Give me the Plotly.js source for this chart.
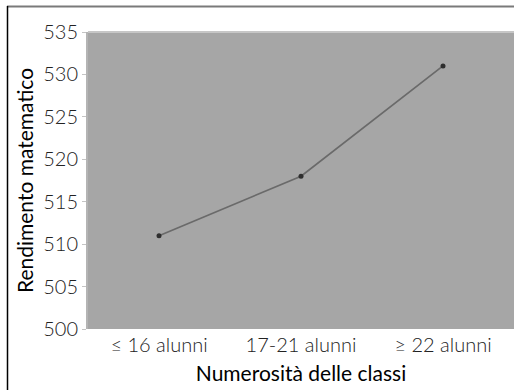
<!DOCTYPE html>
<html>
<head>
<meta charset="utf-8">
<script src="https://cdn.plot.ly/plotly-3.0.1.min.js"></script>
<style>
  html, body { margin: 0; padding: 0; background: #fff; }
  #chart { width: 514px; height: 390px; }
</style>
</head>
<body>
<div id="chart"></div>
<script>
// Class size groups and mean maths score for each group
const categories = ['≤ 16 alunni', '17-21 alunni', '≥ 22 alunni'];
const scores = [511, 518, 531];
const yTicks = [500, 505, 510, 515, 520, 525, 530, 535];

// Plot-area geometry in pixels, used to place the outer frame lines
const W = 514, H = 390;
const M = { l: 88, r: 0, t: 32, b: 61 };
const pw = W - M.l - M.r, ph = H - M.t - M.b;
const px = v => (v - M.l) / pw;
const py = v => (H - M.b - v) / ph;

const trace = {
  x: categories,
  y: scores,
  type: 'scatter',
  mode: 'lines+markers',
  line: { color: '#6a6a6a', width: 1.7 },
  marker: { color: '#2e2e2e', size: 5 },
  hoverinfo: 'skip'
};

const font = 'Lato, "Open Sans", sans-serif';

const layout = {
  width: W,
  height: H,
  margin: M,
  paper_bgcolor: '#ffffff',
  plot_bgcolor: '#a6a6a6',
  showlegend: false,
  xaxis: {
    type: 'category',
    range: [-0.5, 2.5],
    showgrid: false,
    zeroline: false,
    showline: false,
    ticks: '',
    ticklabelstandoff: 2,
    tickfont: { family: font, size: 20, color: '#222', weight: 300 },
    title: { text: 'Numerosità delle classi', font: { family: font, size: 21, color: '#000' }, standoff: 11 }
  },
  yaxis: {
    range: [500, 535],
    tickvals: yTicks,
    ticktext: yTicks.map(String),
    showgrid: false,
    zeroline: false,
    showline: true,
    linecolor: '#b4b4b4',
    linewidth: 2,
    ticks: 'outside',
    ticklen: 4,
    tickcolor: '#c4c4c4',
    tickfont: { family: font, size: 20, color: '#222', weight: 300 },
    title: { text: 'Rendimento matematico', font: { family: font, size: 21, color: '#000' }, standoff: 4 }
  },
  shapes: [
    // light edge along the top of the plot area
    { type: 'line', xref: 'paper', yref: 'paper', x0: 0, x1: 1, y0: 1, y1: 1,
      line: { color: '#c6c6c6', width: 2 } },
    // frame: grey rule across the top, black rule down the left
    { type: 'line', xref: 'paper', yref: 'paper', x0: px(7), x1: px(514), y0: py(6.5), y1: py(6.5),
      line: { color: '#7a7a7a', width: 2 } },
    { type: 'line', xref: 'paper', yref: 'paper', x0: px(7.5), x1: px(7.5), y0: py(6), y1: py(392),
      line: { color: '#000000', width: 1.5 } }
  ]
};

Plotly.newPlot('chart', [trace], layout, { displayModeBar: false, staticPlot: true });
</script>
</body>
</html>
